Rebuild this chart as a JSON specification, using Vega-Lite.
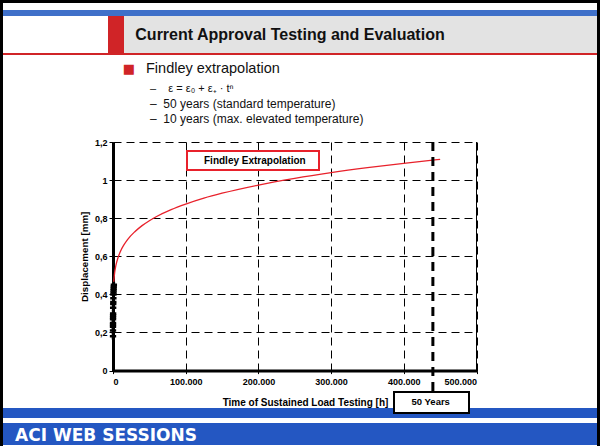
{
  "$schema": "https://vega.github.io/schema/vega-lite/v6.json",
  "padding": 0,
  "background": "white",
  "spacing": 0,
  "config": {"view": {"stroke": null}, "font": "Liberation Sans", "concat": {"spacing": 0}, "legend": {"strokeWidth": 2}},
  "datasets": {
    "part": [{"part": "panel"}],
    "curve": [
      {"t": 0, "disp": 0.18, "series": "Findley Extrapolation"},
      {"t": 1, "disp": 0.254, "series": "Findley Extrapolation"},
      {"t": 10, "disp": 0.296, "series": "Findley Extrapolation"},
      {"t": 50, "disp": 0.339, "series": "Findley Extrapolation"},
      {"t": 100, "disp": 0.362, "series": "Findley Extrapolation"},
      {"t": 250, "disp": 0.397, "series": "Findley Extrapolation"},
      {"t": 500, "disp": 0.428, "series": "Findley Extrapolation"},
      {"t": 1000, "disp": 0.464, "series": "Findley Extrapolation"},
      {"t": 2000, "disp": 0.505, "series": "Findley Extrapolation"},
      {"t": 4000, "disp": 0.552, "series": "Findley Extrapolation"},
      {"t": 7000, "disp": 0.594, "series": "Findley Extrapolation"},
      {"t": 10000, "disp": 0.624, "series": "Findley Extrapolation"},
      {"t": 15000, "disp": 0.66, "series": "Findley Extrapolation"},
      {"t": 20000, "disp": 0.688, "series": "Findley Extrapolation"},
      {"t": 30000, "disp": 0.729, "series": "Findley Extrapolation"},
      {"t": 40000, "disp": 0.761, "series": "Findley Extrapolation"},
      {"t": 50000, "disp": 0.787, "series": "Findley Extrapolation"},
      {"t": 60000, "disp": 0.809, "series": "Findley Extrapolation"},
      {"t": 80000, "disp": 0.845, "series": "Findley Extrapolation"},
      {"t": 100000, "disp": 0.874, "series": "Findley Extrapolation"},
      {"t": 125000, "disp": 0.905, "series": "Findley Extrapolation"},
      {"t": 150000, "disp": 0.931, "series": "Findley Extrapolation"},
      {"t": 200000, "disp": 0.974, "series": "Findley Extrapolation"},
      {"t": 250000, "disp": 1.009, "series": "Findley Extrapolation"},
      {"t": 300000, "disp": 1.039, "series": "Findley Extrapolation"},
      {"t": 350000, "disp": 1.065, "series": "Findley Extrapolation"},
      {"t": 400000, "disp": 1.088, "series": "Findley Extrapolation"},
      {"t": 450000, "disp": 1.109, "series": "Findley Extrapolation"}
    ],
    "test": [
      {"t": 0, "disp": 0.18}, {"t": 2, "disp": 0.21}, {"t": 5, "disp": 0.23}, {"t": 10, "disp": 0.24},
      {"t": 20, "disp": 0.25}, {"t": 40, "disp": 0.27}, {"t": 70, "disp": 0.28}, {"t": 100, "disp": 0.29},
      {"t": 150, "disp": 0.3}, {"t": 200, "disp": 0.33}, {"t": 300, "disp": 0.35}, {"t": 400, "disp": 0.36},
      {"t": 500, "disp": 0.38}, {"t": 600, "disp": 0.4}, {"t": 700, "disp": 0.41}, {"t": 800, "disp": 0.42},
      {"t": 900, "disp": 0.43}, {"t": 1000, "disp": 0.44}, {"t": 1200, "disp": 0.45}
    ]
  },
  "hconcat": [
    {"width": 3, "height": 446, "data": {"name": "part"}, "mark": {"type": "rect", "color": "black"}, "encoding": {}},
    {
      "spacing": 0,
      "vconcat": [
        {"width": 594, "height": 3, "data": {"name": "part"}, "mark": {"type": "rect", "color": "black"}, "encoding": {}},
        {"width": 594, "height": 7, "data": {"name": "part"}, "mark": {"type": "rect", "color": "white"}, "encoding": {}},
        {"width": 594, "height": 6, "data": {"name": "part"}, "mark": {"type": "rect", "color": "#3f70c9"}, "encoding": {}},
        {
          "spacing": 0,
          "hconcat": [
            {"width": 105, "height": 37, "data": {"name": "part"}, "mark": {"type": "rect", "color": "white"}, "encoding": {}},
            {"width": 16, "height": 37, "data": {"name": "part"}, "mark": {"type": "rect", "color": "#d02427"}, "encoding": {}},
            {"width": 332, "height": 37, "data": {"values": [{"title": "Current Approval Testing and Evaluation"}]},
             "layer": [
               {"mark": {"type": "rect", "color": "#e3e3e3"}, "encoding": {}},
               {"mark": {"type": "text", "fontSize": 16, "fontWeight": "bold", "color": "#111111"}, "encoding": {"text": {"field": "title"}}}
             ]},
            {"width": 141, "height": 37, "data": {"name": "part"}, "mark": {"type": "rect", "color": "#e3e3e3"}, "encoding": {}}
          ]
        },
        {"width": 594, "height": 2, "data": {"name": "part"}, "mark": {"type": "rect", "color": "#d02427"}, "encoding": {}},
        {"width": 286, "height": 27, "data": {"values": [{"line": "Findley extrapolation", "bullet": "■"}]},
         "layer": [
           {"mark": {"type": "text", "align": "right", "dx": -11, "fontSize": 13, "color": "#d02427", "font": "DejaVu Sans"}, "encoding": {"text": {"field": "bullet"}}},
           {"mark": {"type": "text", "align": "left", "fontSize": 14.5, "color": "#111111"}, "encoding": {"text": {"field": "line"}}}
         ]},
        {"width": 294, "height": 44,
         "layer": [
           {"data": {"values": [{"n": 1, "line": "–\u00a0\u00a0\u00a0\u00a0ε = ε₀ + ε₊ · tⁿ"}]},
            "mark": {"type": "text", "align": "left", "fontSize": 11, "color": "#111111"},
            "encoding": {"y": {"field": "n", "type": "ordinal", "axis": null}, "text": {"field": "line"}}},
           {"data": {"values": [{"n": 2, "line": "–\u00a0\u00a050 years (standard temperature)"}, {"n": 3, "line": "–\u00a0\u00a010 years (max. elevated temperature)"}]},
            "mark": {"type": "text", "align": "left", "fontSize": 12, "color": "#111111"},
            "encoding": {"y": {"field": "n", "type": "ordinal", "axis": null}, "text": {"field": "line"}}}
         ]},
        {"width": 594, "height": 12, "data": {"name": "part"}, "mark": {"type": "rect", "color": "white"}, "encoding": {}},
        {
          "spacing": 0,
          "hconcat": [
            {"width": 76, "height": 10, "data": {"name": "part"}, "mark": {"type": "rect", "color": "white"}, "encoding": {}},
            {
              "width": 363.5,
              "height": 228.6,
              "layer": [
                {
                  "data": {"name": "curve"},
                  "mark": {"type": "line", "strokeWidth": 1.3, "interpolate": "monotone"},
                  "encoding": {
                    "x": {"field": "t", "type": "quantitative", "title": "Time of Sustained Load Testing [h]",
                      "scale": {"domain": [0, 500000], "nice": false},
                      "axis": {"values": [0, 100000, 200000, 300000, 400000, 500000], "tickCount": 12, "labelOverlap": false,
                        "labelExpr": "replace(format(datum.value, ','), ',', '.')",
                        "labelFontWeight": "bold", "labelFontSize": 9, "labelColor": "black", "labelPadding": 4,
                        "tickColor": "black", "tickSize": 3, "domainColor": "black", "domainWidth": 3,
                        "grid": true, "gridColor": "black", "gridDash": [8, 5], "gridWidth": 1, "gridOpacity": 1,
                        "titleFontWeight": "bold", "titleFontSize": 10, "titleColor": "black", "titlePadding": 11, "titleX": 192}},
                    "y": {"field": "disp", "type": "quantitative", "title": "Displacement [mm]",
                      "scale": {"domain": [0, 1.2], "nice": false},
                      "axis": {"values": [0, 0.2, 0.4, 0.6, 0.8, 1, 1.2], "tickCount": 14, "labelOverlap": false,
                        "labelExpr": "replace(format(datum.value, '.1~f'), '.', ',')",
                        "labelFontWeight": "bold", "labelFontSize": 9, "labelColor": "black", "labelPadding": 2,
                        "tickColor": "black", "tickSize": 4, "domainColor": "black", "domainWidth": 3,
                        "grid": true, "gridColor": "black", "gridDash": [8, 5], "gridWidth": 1, "gridOpacity": 1,
                        "titleFontWeight": "bold", "titleFontSize": 9.8, "titleColor": "black", "titlePadding": 5}},
                    "color": {"field": "series", "type": "nominal", "scale": {"range": ["#e8212b"]},
                      "legend": {"orient": "none", "legendX": 187, "legendY": 151, "title": null,
                        "strokeColor": "#e8212b", "fillColor": "white", "padding": 4.5,
                        "symbolOpacity": 0, "symbolSize": 0, "symbolStrokeWidth": 0, "labelOffset": 2.5,
                        "labelExpr": "datum.label + '\u00a0\u00a0\u00a0\u200b'",
                        "labelFontWeight": "bold", "labelFontSize": 10, "labelColor": "black"}}
                  }
                },
                {
                  "data": {"name": "test"},
                  "mark": {"type": "point", "shape": "cross", "filled": true, "color": "black", "size": 40, "opacity": 1},
                  "encoding": {
                    "x": {"field": "t", "type": "quantitative", "title": "Time of Sustained Load Testing [h]"},
                    "y": {"field": "disp", "type": "quantitative", "title": "Displacement [mm]"}
                  }
                },
                {
                  "data": {"values": [{"t": 440000, "label": "50 Years"}]},
                  "mark": {"type": "rule", "strokeWidth": 3, "color": "black"},
                  "encoding": {
                    "x": {"field": "t", "type": "quantitative", "title": "Time of Sustained Load Testing [h]"},
                    "y": {"datum": 1.2},
                    "y2": {"datum": -0.109},
                    "strokeDash": {"field": "label", "type": "nominal", "scale": {"range": [[9, 6]]},
                      "legend": {"orient": "none", "legendX": 394, "legendY": 392, "title": null,
                        "strokeColor": "black", "fillColor": "white", "padding": 5.5,
                        "symbolOpacity": 0, "symbolSize": 0, "symbolStrokeWidth": 0, "labelOffset": 2.5,
                        "labelExpr": "datum.label + '\u00a0\u00a0\u00a0\u00a0\u00a0\u200b'",
                        "labelFontWeight": "bold", "labelFontSize": 9.5, "labelColor": "black"}}
                  }
                },
                {
                  "data": {"values": [{"t": 500000}]},
                  "mark": {"type": "rule", "strokeWidth": 1, "color": "black"},
                  "encoding": {
                    "x": {"field": "t", "type": "quantitative", "title": "Time of Sustained Load Testing [h]"},
                    "y": {"datum": 0},
                    "y2": {"datum": 1.2}
                  }
                }
              ]
            }
          ]
        },
        {"width": 594, "height": 10, "data": {"name": "part"}, "mark": {"type": "rect", "color": "#2457c2"}, "encoding": {}},
        {"width": 594, "height": 5, "data": {"name": "part"}, "mark": {"type": "rect", "color": "white"}, "encoding": {}},
        {
          "spacing": 0,
          "hconcat": [
            {"width": 206, "height": 22, "data": {"values": [{"brand": "ACI WEB SESSIONS"}]},
             "layer": [
               {"mark": {"type": "rect", "color": "#2457c2"}, "encoding": {}},
               {"mark": {"type": "text", "font": "DejaVu Sans", "fontSize": 17, "fontWeight": "bold", "color": "white", "dy": 2}, "encoding": {"text": {"field": "brand"}}}
             ]},
            {"width": 388, "height": 22, "data": {"name": "part"}, "mark": {"type": "rect", "color": "#2457c2"}, "encoding": {}}
          ]
        }
      ]
    },
    {"width": 3, "height": 446, "data": {"name": "part"}, "mark": {"type": "rect", "color": "black"}, "encoding": {}}
  ]
}
